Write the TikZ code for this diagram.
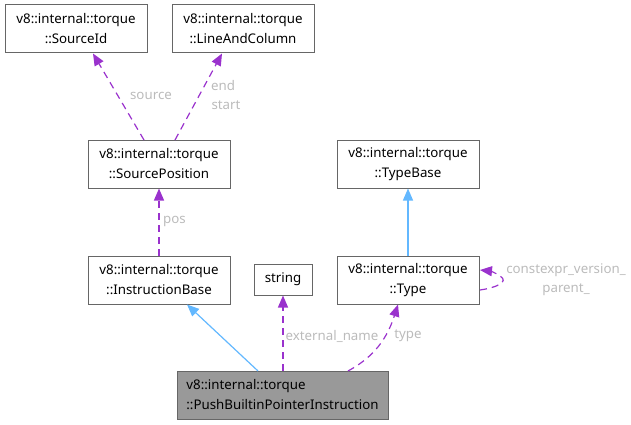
\documentclass[tikz,border=0pt]{standalone}
\usepackage{fontspec}
\setmainfont{Noto Sans}
\usetikzlibrary{arrows.meta}
\definecolor{edgepurple}{HTML}{9A32CD}
\definecolor{edgeblue}{HTML}{63B8FF}
\definecolor{lblgray}{HTML}{BBBBBB}
\definecolor{boxgray}{HTML}{666666}
\definecolor{pushfill}{HTML}{999999}
\begin{document}
\begin{tikzpicture}[x=1pt,y=-1pt,
  cls/.style={draw=boxgray, line width=1pt, fill=white, minimum width=142pt, minimum height=48pt, inner sep=0pt, align=center, font=\fontsize{13.3pt}{20pt}\selectfont},
  rel/.style={draw=edgepurple, line width=1.2pt, dash pattern=on 7pt off 5pt, -{Triangle[length=12pt,width=10pt]}},
  inh/.style={draw=edgeblue, line width=1.2pt, -{Triangle[length=12pt,width=10pt]}},
  lbl/.style={text=lblgray, font=\fontsize{13.3pt}{16pt}\selectfont, inner sep=1pt}
]
\useasboundingbox (0,0) rectangle (631,425);
\node[cls] (sid) at (76,29) {v8::internal::torque\\::SourceId};
\node[cls] (lac) at (243,29) {v8::internal::torque\\::LineAndColumn};
\node[cls] (spos) at (159,164) {v8::internal::torque\\::SourcePosition};
\node[cls] (tb) at (408,164) {v8::internal::torque\\::TypeBase};
\node[cls] (ib) at (159,280) {v8::internal::torque\\::InstructionBase};
\node[cls, minimum width=58pt, minimum height=31pt] (str) at (283,279.5) {string};
\node[cls] (ty) at (408,280) {v8::internal::torque\\::Type};
\node[cls, fill=pushfill, minimum width=211pt, align=left] (push) at (282.5,395) {v8::internal::torque\\::PushBuiltinPointerInstruction};

\coordinate (sposA) at (144,140);
\coordinate (sposB) at (175,140);
\draw[rel] (sposA) -- (sid.south -| 93,0);
\draw[rel] (sposB) -- (lac.south -| 222,0);
\node[lbl] (lsrc) at (151,96) {source};
\node[lbl] (lend) at (223,86) {end};
\node[lbl] (lstart) at (226,105) {start};

\draw[rel] (ib.north) -- (spos.south);
\node[lbl, anchor=west] (lpos) at (162,221) {pos};

\draw[inh] (ty.north) -- (tb.south);

\coordinate (tyA) at (480,290);
\coordinate (tyB) at (480,270);
\draw[rel] (tyA) .. controls (495,288) and (510,282) .. (500,276) .. controls (496,273) and (490,271) .. (tyB);
\node[lbl] (lce) at (566,270) {constexpr\_version\_};
\node[lbl] (lpar) at (566,290) {parent\_};

\coordinate (pushA) at (258,371);
\coordinate (pushB) at (348,371);
\draw[inh] (pushA) -- (ib.south -| 187,0);
\draw[rel] (push.north -| str.south) -- (str.south);
\node[lbl] (lext) at (332,336) {external\_name};
\draw[rel] (pushB) .. controls (368,360) and (385,345) .. (ty.south -| 398,0);
\node[lbl] (ltype) at (408,336) {type};
\end{tikzpicture}
\end{document}
